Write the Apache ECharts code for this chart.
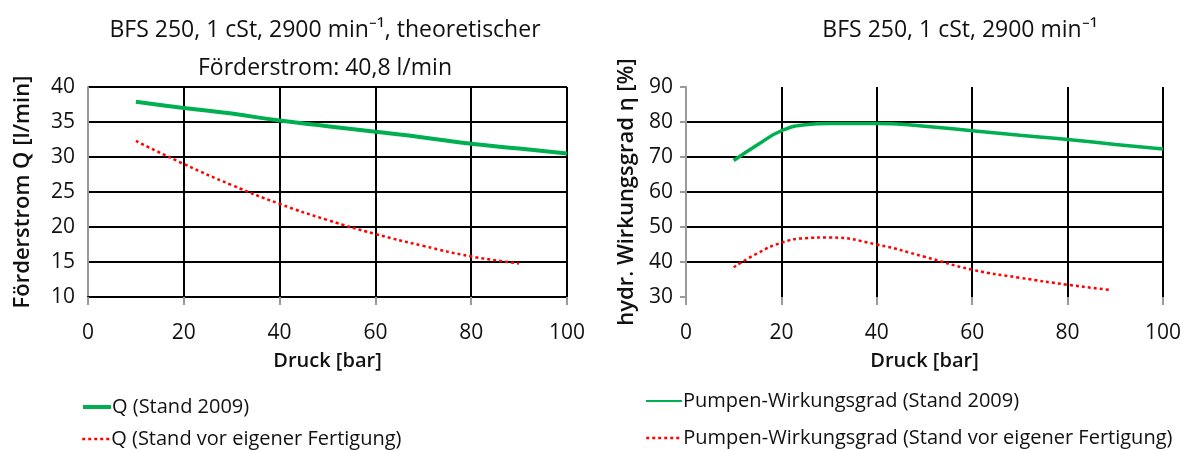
<!DOCTYPE html>
<html>
<head>
<meta charset="utf-8">
<script src="https://cdn.jsdelivr.net/npm/echarts@6/dist/echarts.min.js"></script>
<style>
  html, body { margin: 0; padding: 0; background: #fff; }
  .wrap { width: 1193px; height: 450px; position: relative; }
  #chartQ { position: absolute; left: 0; top: 0; width: 600px; height: 450px; }
  #chartEta { position: absolute; left: 600px; top: 0; width: 593px; height: 450px; }
</style>
</head>
<body>
<div class="wrap">
  <div id="chartQ"></div>
  <div id="chartEta"></div>
</div>
<script>
  // Druck [bar]
  var druckQ2009 = [10, 20, 30, 40, 50, 60, 70, 80, 90, 100]
  var q2009 = [37.9, 37.0, 36.2, 35.2, 34.4, 33.6, 32.8, 31.9, 31.2, 30.5]
  var druckQAlt = [10, 20, 30, 40, 50, 60, 70, 80, 90]
  var qAlt = [32.3, 29.0, 26.0, 23.3, 21.0, 19.0, 17.3, 15.8, 14.8]

  var druckEta2009 = [10, 15, 20, 25, 30, 40, 50, 60, 70, 80, 90, 100]
  var eta2009 = [69, 73.5, 77.5, 79.2, 79.6, 79.6, 78.8, 77.5, 76.2, 75, 73.6, 72.3]
  var druckEtaAlt = [10, 15, 20, 25, 30, 40, 50, 60, 70, 80, 89]
  var etaAlt = [38.5, 42.5, 45.5, 46.8, 47, 45, 41.5, 37.8, 35.5, 33.5, 32]

  var fontName = "'Open Sans', sans-serif"
  var green = '#00b050'
  var red = '#ff0000'
  var gray = '#9a9a9a'

  function pairs(xs, ys) {
    return xs.map(function(x, i) { return [x, ys[i]] })
  }

  function xAxisCfg(showLine) {
    return {
      type: 'value',
      min: 0,
      max: 100,
      interval: 20,
      name: 'Druck [bar]',
      nameLocation: 'middle',
      nameGap: 54,
      nameTextStyle: { fontFamily: fontName, fontSize: 20, fontWeight: 600, color: '#111' },
      axisLine: { show: showLine, onZero: false, lineStyle: { color: '#000', width: 2 } },
      axisTick: { show: true, length: 8, lineStyle: { color: gray, width: 2 } },
      axisLabel: { margin: 26, fontFamily: fontName, fontSize: 21, color: '#111' },
      splitLine: { show: true, lineStyle: { color: '#000', width: 2 } }
    }
  }

  function yAxisCfg(name, min, max, interval, gap, edgeLines, tickLen) {
    return {
      type: 'value',
      min: min,
      max: max,
      interval: interval,
      name: name,
      nameLocation: 'middle',
      nameRotate: 90,
      nameGap: gap,
      nameTextStyle: { fontFamily: fontName, fontSize: 22, fontWeight: 600, color: '#111' },
      axisLine: { show: true, lineStyle: { color: gray, width: 2 } },
      axisTick: { show: tickLen > 0, length: tickLen, lineStyle: { color: gray, width: 2 } },
      axisLabel: { margin: 13, fontFamily: fontName, fontSize: 21, color: '#111' },
      splitLine: {
        show: true,
        showMinLine: edgeLines,
        showMaxLine: edgeLines,
        lineStyle: { color: '#000', width: 2 }
      }
    }
  }

  function lineSeries(name, xs, ys, color, width, dotted) {
    return {
      name: name,
      type: 'line',
      symbol: 'none',
      smooth: true,
      lineStyle: { color: color, width: width, type: dotted ? [3, 3] : 'solid' },
      itemStyle: { color: color },
      data: pairs(xs, ys)
    }
  }

  // one legend per entry, stacked
  function legendCfg(left, top, width, lineWidth, name) {
    return {
      left: left,
      top: top,
      itemWidth: width,
      itemHeight: 10,
      itemStyle: { opacity: 0 },
      lineStyle: { width: lineWidth },
      textStyle: { fontFamily: fontName, fontSize: 20, color: '#111', padding: [0, 0, 0, -4] },
      data: [name]
    }
  }

  var chartQ = echarts.init(document.getElementById('chartQ'))
  chartQ.setOption({
    animation: false,
    backgroundColor: '#fff',
    title: {
      text: 'BFS 250, 1 cSt, 2900 min⁻¹, theoretischer\nFörderstrom: 40,8 l/min',
      left: 320,
      top: 6,
      textAlign: 'center',
      textStyle: { fontFamily: fontName, fontSize: 23, fontWeight: 'normal', color: '#111', lineHeight: 38 }
    },
    legend: [
      legendCfg(76, 392, 28, 4, 'Q (Stand 2009)'),
      legendCfg(76, 424, 28, 2.5, 'Q (Stand vor eigener Fertigung)')
    ],
    grid: { left: 88, right: 33, top: 87, bottom: 153 },
    xAxis: xAxisCfg(true),
    yAxis: yAxisCfg('Förderstrom Q [l/min]', 10, 40, 5, 54, true, 0),
    series: [
      lineSeries('Q (Stand 2009)', druckQ2009, q2009, green, 4, false),
      lineSeries('Q (Stand vor eigener Fertigung)', druckQAlt, qAlt, red, 2.5, true)
    ]
  })

  var chartEta = echarts.init(document.getElementById('chartEta'))
  chartEta.setOption({
    animation: false,
    backgroundColor: '#fff',
    title: {
      text: 'BFS 250, 1 cSt, 2900 min⁻¹',
      left: 355,
      top: 6,
      textAlign: 'center',
      textStyle: { fontFamily: fontName, fontSize: 23, fontWeight: 'normal', color: '#111', lineHeight: 38 }
    },
    legend: [
      legendCfg(40, 386, 36, 2, 'Pumpen-Wirkungsgrad (Stand 2009)'),
      legendCfg(40, 423, 36, 2.5, 'Pumpen-Wirkungsgrad (Stand vor eigener Fertigung)')
    ],
    grid: { left: 86, right: 30, top: 87, bottom: 153 },
    xAxis: xAxisCfg(false),
    yAxis: yAxisCfg('hydr. Wirkungsgrad η [%]', 30, 90, 10, 46, false, 6),
    series: [
      lineSeries('Pumpen-Wirkungsgrad (Stand 2009)', druckEta2009, eta2009, green, 3.5, false),
      lineSeries('Pumpen-Wirkungsgrad (Stand vor eigener Fertigung)', druckEtaAlt, etaAlt, red, 2.5, true)
    ]
  })
</script>
</body>
</html>
